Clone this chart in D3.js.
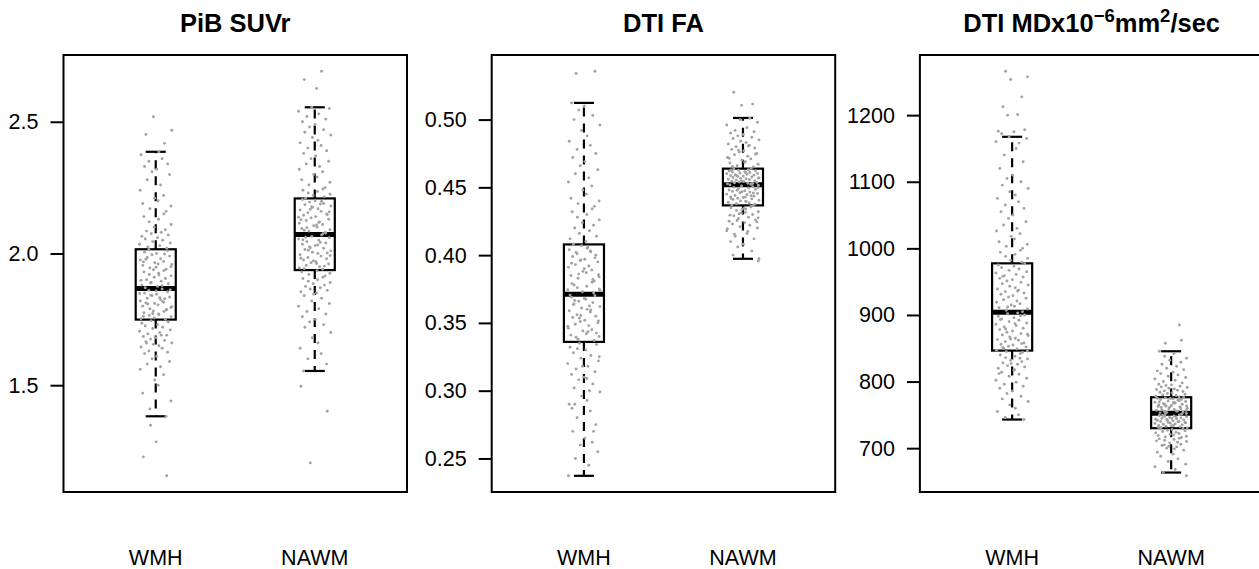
<!DOCTYPE html>
<html>
<head>
<meta charset="utf-8">
<script src="https://cdn.jsdelivr.net/npm/d3@7"></script>
<style>
html,body{margin:0;padding:0;background:#fff;}
svg{display:block;}
</style>
</head>
<body>
<svg id="chart" width="1259" height="569"></svg>
<script>
// ---------------- DATA ----------------
const categories = ["WMH", "NAWM"];
const panelTitles = ["PiB SUVr", "DTI FA", "DTI MD"];
// third title with superscripts: [text, isSuperscript]
const mdTitleParts = [["DTI MDx10", 0], ["\u22126", 1], ["mm", 0], ["2", 1], ["/sec", 0]];

const pibTicks = [1.5, 2.0, 2.5];
const faTicks = [0.25, 0.30, 0.35, 0.40, 0.45, 0.50];
const mdTicks = [700, 800, 900, 1000, 1100, 1200];

// box stats: [lower whisker, Q1, median, Q3, upper whisker]
const pibBox = [[1.382, 1.749, 1.867, 2.016, 2.386], [1.554, 1.937, 2.072, 2.209, 2.555]];
const faBox  = [[0.2372, 0.336, 0.3712, 0.4079, 0.5123], [0.3973, 0.4367, 0.452, 0.4638, 0.5012]];
const mdBox  = [[743, 846.5, 904, 977.5, 1167.5], [663.4, 730, 752.5, 776.5, 845.5]];

// individual (estimated) values
const pibWMH = [1.382,1.41,1.44,1.47,1.50,1.52,1.54,1.56,1.57,1.58,1.59,1.60,1.61,1.62,1.625,1.63,1.64,1.645,1.65,1.655,1.66,1.665,1.67,1.675,1.68,1.685,1.69,1.695,1.70,1.705,1.71,1.715,1.72,1.725,1.73,1.735,1.74,1.745,1.69,1.66,
1.75,1.755,1.76,1.765,1.77,1.775,1.78,1.785,1.79,1.795,1.80,1.805,1.81,1.815,1.82,1.825,1.83,1.835,1.84,1.845,1.85,1.855,1.86,1.865,1.752,1.768,1.782,1.798,1.812,1.828,1.842,1.858,1.762,1.788,1.808,1.832,1.848,1.862,1.772,1.818,
1.87,1.875,1.88,1.885,1.89,1.895,1.90,1.905,1.91,1.915,1.92,1.925,1.93,1.935,1.94,1.945,1.95,1.955,1.96,1.965,1.97,1.975,1.98,1.985,1.99,1.995,2.00,2.005,2.01,2.015,1.878,1.898,1.918,1.938,1.958,1.978,1.998,1.888,1.948,1.968,
2.02,2.025,2.03,2.035,2.04,2.045,2.05,2.055,2.06,2.065,2.07,2.075,2.08,2.085,2.09,2.10,2.11,2.12,2.13,2.14,2.15,2.16,2.17,2.18,2.19,2.20,2.21,2.22,2.24,2.26,2.28,2.30,2.31,2.32,2.33,2.34,2.35,2.36,2.375,2.386,
2.519,2.468,2.452,2.418,1.348,1.285,1.228,1.156];
const pibNAWM = [1.554,1.58,1.60,1.62,1.64,1.66,1.68,1.70,1.72,1.73,1.74,1.75,1.76,1.77,1.78,1.79,1.80,1.81,1.82,1.83,1.84,1.85,1.855,1.86,1.865,1.87,1.875,1.88,1.885,1.89,1.895,1.90,1.905,1.91,1.915,1.92,1.925,1.93,1.935,1.845,
1.94,1.945,1.95,1.955,1.96,1.965,1.97,1.975,1.98,1.985,1.99,1.995,2.00,2.005,2.01,2.015,2.02,2.025,2.03,2.035,2.04,2.045,2.05,2.055,2.06,2.065,2.07,1.942,1.962,1.982,2.002,2.022,2.042,2.062,1.952,1.972,1.992,2.012,2.032,2.052,
2.075,2.08,2.085,2.09,2.095,2.10,2.105,2.11,2.115,2.12,2.125,2.13,2.135,2.14,2.145,2.15,2.155,2.16,2.165,2.17,2.175,2.18,2.185,2.19,2.195,2.20,2.205,2.078,2.098,2.118,2.138,2.158,2.178,2.198,2.088,2.108,2.128,2.148,2.168,2.188,
2.21,2.215,2.22,2.225,2.23,2.235,2.24,2.245,2.25,2.26,2.27,2.28,2.29,2.30,2.31,2.32,2.33,2.34,2.35,2.36,2.37,2.38,2.39,2.40,2.41,2.42,2.43,2.44,2.45,2.46,2.47,2.48,2.49,2.50,2.51,2.52,2.53,2.54,2.55,2.555,
2.692,2.660,2.626,1.496,1.401,1.205];
const faWMH = [0.2372,0.245,0.25,0.255,0.26,0.265,0.27,0.275,0.28,0.285,0.29,0.293,0.296,0.299,0.302,0.305,0.308,0.31,0.312,0.314,0.316,0.318,0.32,0.322,0.324,0.326,0.328,0.33,0.332,0.334,0.335,0.30,0.29,0.27,0.318,0.325,0.331,0.309,0.287,0.262,
0.337,0.338,0.34,0.341,0.342,0.344,0.345,0.346,0.348,0.349,0.35,0.351,0.352,0.354,0.355,0.356,0.358,0.359,0.36,0.361,0.362,0.364,0.365,0.366,0.368,0.369,0.37,0.3395,0.3435,0.3475,0.3515,0.3555,0.3595,0.3635,0.3675,0.3705,0.3425,0.3535,0.3625,0.3665,
0.372,0.373,0.375,0.376,0.377,0.379,0.38,0.381,0.383,0.384,0.385,0.387,0.388,0.389,0.391,0.392,0.393,0.395,0.396,0.397,0.399,0.40,0.401,0.403,0.404,0.405,0.407,0.374,0.378,0.382,0.386,0.39,0.394,0.398,0.402,0.406,0.3745,0.3855,0.3965,0.4025,
0.408,0.41,0.412,0.414,0.416,0.418,0.42,0.422,0.424,0.426,0.428,0.43,0.432,0.434,0.436,0.438,0.44,0.442,0.445,0.448,0.451,0.454,0.457,0.46,0.463,0.466,0.469,0.472,0.475,0.478,0.481,0.484,0.488,0.492,0.496,0.50,0.503,0.507,0.51,0.5123,
0.5357,0.534];
const faNAWM = [0.3973,0.40,0.403,0.406,0.408,0.41,0.412,0.414,0.416,0.418,0.42,0.421,0.422,0.423,0.424,0.425,0.426,0.427,0.428,0.429,0.43,0.431,0.432,0.433,0.434,0.435,0.436,0.4365,0.4255,0.4275,0.4295,0.4315,0.4335,0.4355,0.4195,0.4175,0.4155,0.4245,0.4305,0.4345,
0.437,0.4375,0.438,0.4385,0.439,0.4395,0.44,0.4405,0.441,0.4415,0.442,0.4425,0.443,0.4435,0.444,0.4445,0.445,0.4455,0.446,0.4465,0.447,0.4475,0.448,0.4485,0.449,0.4495,0.45,0.4505,0.451,0.4515,0.4378,0.4398,0.4418,0.4438,0.4458,0.4478,0.4498,0.4518,0.4428,0.4468,
0.4523,0.4526,0.453,0.4533,0.4536,0.454,0.4543,0.4546,0.455,0.4553,0.4556,0.456,0.4563,0.4566,0.457,0.4573,0.4576,0.458,0.4583,0.4586,0.459,0.4593,0.4596,0.46,0.4603,0.4606,0.461,0.4613,0.4616,0.462,0.4623,0.4626,0.463,0.4635,0.4528,0.4548,0.4568,0.4588,0.4608,0.4628,
0.464,0.465,0.466,0.467,0.468,0.469,0.47,0.471,0.472,0.473,0.474,0.475,0.476,0.477,0.478,0.479,0.48,0.481,0.482,0.483,0.484,0.485,0.486,0.487,0.488,0.489,0.49,0.491,0.492,0.494,0.496,0.498,0.50,0.501,0.4655,0.4685,0.4715,0.4745,0.4775,0.4805,
0.5202,0.5114,0.5105,0.3956];
const mdWMH = [743,746,750,755,760,765,770,774,778,782,786,790,793,796,799,802,805,808,811,814,817,820,822,824,826,828,830,832,834,836,838,840,842,844,845,846,812,818,827,835,
847,849,850,852,853,855,856,858,860,862,863,865,867,869,870,872,874,876,878,880,882,884,886,888,890,892,894,896,898,900,902,903,851,857,864,871,879,887,893,899,
905,907,909,911,913,915,917,919,921,923,925,927,929,931,933,935,937,939,941,943,945,947,949,951,953,955,957,959,961,963,965,967,969,971,973,975,977,912,936,958,
979,982,985,988,991,994,997,1000,1003,1006,1010,1014,1018,1022,1026,1030,1035,1040,1045,1050,1055,1060,1065,1070,1075,1080,1085,1090,1095,1100,1105,1110,1120,1130,1140,1150,1160,1165,1167.5,1158,
1172,1175,1176,1178,1200,1201,1212.5,1227.5,1253.5,1257.5,1266];
const mdNAWM = [663.4,668,672,676,680,684,688,691,694,697,700,702,704,706,708,710,712,713,714,715,716,717,718,719,720,721,722,723,724,725,726,727,728,729,729.5,705,709,711,699,703,
730.5,731,732,733,733.5,734,735,736,736.5,737,738,739,739.5,740,741,742,742.5,743,744,745,745.5,746,747,748,748.5,749,750,751,751.5,752,731.5,734.5,737.5,740.5,743.5,746.5,749.5,738.5,741.5,744.5,
753,754,755,756,757,758,759,760,761,762,763,764,765,766,767,768,769,770,771,772,773,774,775,776,753.5,755.5,757.5,759.5,761.5,763.5,765.5,767.5,769.5,771.5,773.5,775.5,756.5,762.5,768.5,774.5,
777,778,779,780,781,782,783,784,785,786,787,788,789,790,791,792,793,794,795,796,798,800,802,804,806,808,810,812,814,816,818,820,823,826,829,832,835,838,842,845.5,
885,862,857.5,658.5];

// horizontal jitter fractions (in units of the jitter half-width)
const jitterFractions = [0.62,-0.35,0.91,-0.78,0.14,-0.06,0.47,-0.93,0.29,-0.51,0.83,-0.22,0.05,-0.67,0.71,-0.41,0.38,-0.88,0.19,-0.14,0.96,-0.59,0.53,-0.31,0.02,-0.74,0.66,-0.47,0.24,-0.97,0.87,-0.18,0.41,-0.63,0.11,-0.83,0.75,-0.27,0.33,-0.55,0.58,-0.09,0.92,-0.39,0.17,-0.71,0.49];

// ---------------- LAYOUT ----------------
const svg = d3.select("#chart");
const panelLeft0 = 63.5, panelStride = 428.2, panelW = 343.5;
const plotTop = 55, plotBottom = 492;
const boxHalf = 0.126, stapleHalf = 0.063, jitterHalf = 0.105;
const fontFam = "'Liberation Sans', Arial, Helvetica, sans-serif";

const panels = [
  {title: panelTitles[0], ticks: pibTicks, fmt: d3.format(".1f"), box: pibBox, pts: [pibWMH, pibNAWM]},
  {title: panelTitles[1], ticks: faTicks, fmt: d3.format(".2f"), box: faBox, pts: [faWMH, faNAWM]},
  {title: panelTitles[2], ticks: mdTicks, fmt: d3.format("d"), box: mdBox, pts: [mdWMH, mdNAWM], rich: mdTitleParts}
];

panels.forEach((p, pi) => {
  const left = panelLeft0 + pi * panelStride;
  const g = svg.append("g");
  const x = d3.scaleLinear().domain([0.42, 2.58]).range([left, left + panelW]);
  const all = p.pts.flat().concat(p.box.flat());
  const [mn, mx] = d3.extent(all);
  const pad = (mx - mn) * 0.04;
  const y = d3.scaleLinear().domain([mn - pad, mx + pad]).range([plotBottom, plotTop]);

  // boxes
  p.box.forEach((b, i) => {
    const c = i + 1;
    const [lo, q1, med, q3, hi] = b;
    // whiskers (dashed)
    g.append("line").attr("x1", x(c)).attr("x2", x(c)).attr("y1", y(q3)).attr("y2", y(hi))
      .attr("stroke", "#000").attr("stroke-width", 2.2).attr("stroke-dasharray", "9,7");
    g.append("line").attr("x1", x(c)).attr("x2", x(c)).attr("y1", y(q1)).attr("y2", y(lo))
      .attr("stroke", "#000").attr("stroke-width", 2.2).attr("stroke-dasharray", "9,7");
    // staples
    [lo, hi].forEach(v => {
      g.append("line").attr("x1", x(c - stapleHalf)).attr("x2", x(c + stapleHalf))
        .attr("y1", y(v)).attr("y2", y(v)).attr("stroke", "#000").attr("stroke-width", 2.2);
    });
    // box
    g.append("rect").attr("x", x(c - boxHalf)).attr("width", x(c + boxHalf) - x(c - boxHalf))
      .attr("y", y(q3)).attr("height", y(q1) - y(q3))
      .attr("fill", "none").attr("stroke", "#000").attr("stroke-width", 2.2);
    // median
    g.append("line").attr("x1", x(c - boxHalf)).attr("x2", x(c + boxHalf))
      .attr("y1", y(med)).attr("y2", y(med)).attr("stroke", "#000").attr("stroke-width", 5);
  });

  // jittered points
  p.pts.forEach((arr, i) => {
    const c = i + 1;
    g.append("g").selectAll("circle").data(arr).join("circle")
      .attr("cx", (d, k) => x(c + jitterFractions[(k + i * 13 + pi * 7) % jitterFractions.length] * jitterHalf))
      .attr("cy", d => y(d))
      .attr("r", 1.45)
      .attr("fill", "#a2a2a2");
  });

  // frame
  g.append("rect").attr("x", left).attr("y", plotTop).attr("width", panelW).attr("height", plotBottom - plotTop)
    .attr("fill", "none").attr("stroke", "#000").attr("stroke-width", 2);

  // y axis
  const ax = g.append("g").attr("transform", `translate(${left},0)`)
    .call(d3.axisLeft(y).tickValues(p.ticks).tickFormat(p.fmt).tickSize(13).tickSizeOuter(0).tickPadding(12));
  ax.select(".domain").remove();
  ax.selectAll(".tick line").attr("stroke", "#000").attr("stroke-width", 2);
  ax.selectAll(".tick text").attr("fill", "#000").style("font-family", fontFam).style("font-size", "21.5px");

  // category labels
  categories.forEach((cat, i) => {
    g.append("text").attr("x", x(i + 1)).attr("y", 565).attr("text-anchor", "middle")
      .style("font-family", fontFam).style("font-size", "21.5px").attr("fill", "#000").text(cat);
  });

  // title
  const tx = left + panelW / 2;
  const t = g.append("text").attr("x", tx).attr("y", 32).attr("text-anchor", "middle")
    .style("font-family", fontFam).style("font-weight", "bold").style("font-size", "25.5px").attr("fill", "#000");
  if (p.rich) {
    let prevSup = 0;
    p.rich.forEach(([s, sup]) => {
      const ts = t.append("tspan").text(s);
      if (sup && !prevSup) ts.attr("dy", -10).style("font-size", "18.5px");
      else if (!sup && prevSup) ts.attr("dy", 10);
      else if (sup) ts.style("font-size", "18.5px");
      prevSup = sup;
    });
  } else {
    t.text(p.title);
  }
});
</script>
</body>
</html>
